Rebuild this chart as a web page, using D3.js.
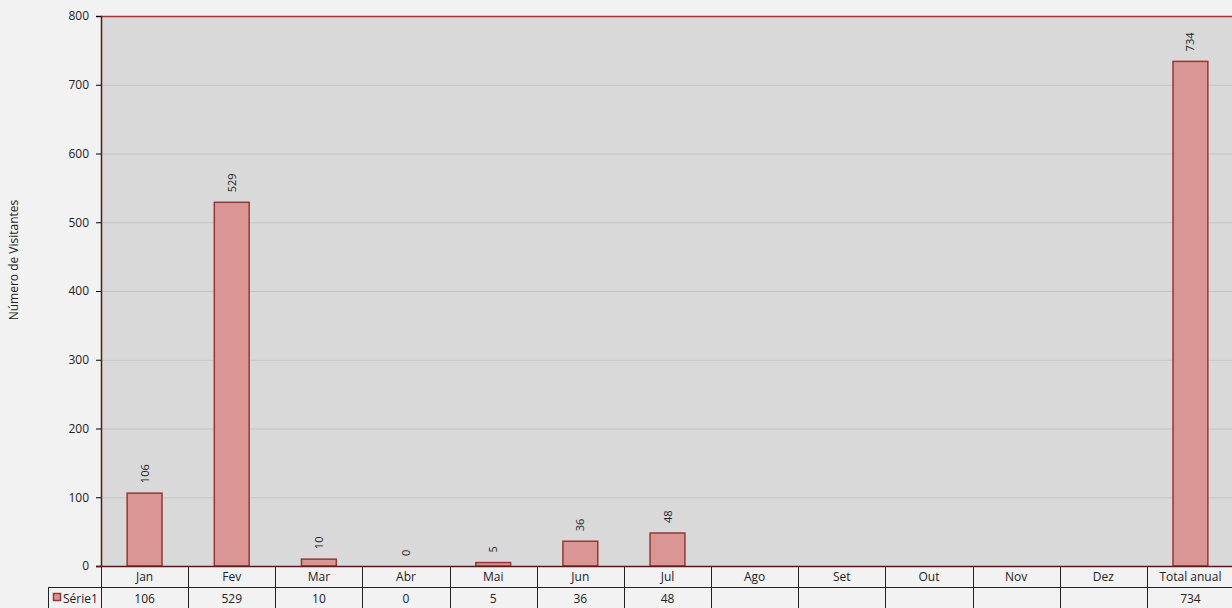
<!DOCTYPE html>
<html>
<head>
<meta charset="utf-8">
<script src="https://cdn.jsdelivr.net/npm/d3@7"></script>
<style>
  body { margin: 0; background: #f2f2f2; overflow: hidden; }
  svg { display: block; font-family: 'Open Sans', 'Liberation Sans', sans-serif; }
</style>
</head>
<body>
<svg></svg>
<script>
const categories = ['Jan', 'Fev', 'Mar', 'Abr', 'Mai', 'Jun', 'Jul', 'Ago', 'Set', 'Out', 'Nov', 'Dez', 'Total anual']
const values = [106, 529, 10, 0, 5, 36, 48, null, null, null, null, null, 734]
const seriesName = 'Série1'
const yTicks = [0, 100, 200, 300, 400, 500, 600, 700, 800]
const yTitle = 'Número de Visitantes'

const W = 1232
const H = 608
const plotLeft = 101
const plotRight = 1234 // plot runs slightly past the window edge
const plotTop = 16
const plotBottom = 566
const rowH = 21

const barFill = '#da9694'
const barStroke = '#953735'

let svg = d3.select('svg')
  .attr('width', W)
  .attr('height', H)

let x = d3.scaleBand()
  .domain(categories)
  .range([plotLeft, plotRight])

let y = d3.scaleLinear()
  .domain([0, 800])
  .range([plotBottom, plotTop])

// plot area
svg.append('rect')
  .attr('x', plotLeft)
  .attr('y', plotTop)
  .attr('width', plotRight - plotLeft)
  .attr('height', plotBottom - plotTop)
  .attr('fill', '#d9d9d9')

// gridlines
svg.append('g')
  .selectAll('line')
  .data(yTicks.filter(d => d > 0 && d < 800))
  .join('line')
  .attr('x1', plotLeft)
  .attr('x2', plotRight)
  .attr('y1', d => y(d) + 0.5)
  .attr('y2', d => y(d) + 0.5)
  .attr('stroke', '#c4c4c4')

// top border
svg.append('line')
  .attr('x1', plotLeft).attr('x2', plotRight)
  .attr('y1', plotTop + 0.5).attr('y2', plotTop + 0.5)
  .attr('stroke', '#a83232')
  .attr('stroke-width', 1.5)

// bars
let barW = x.bandwidth() * 0.4
let bars = categories.map((c, i) => ({ cat: c, v: values[i] })).filter(d => d.v !== null)

svg.append('g')
  .selectAll('rect')
  .data(bars.filter(d => d.v > 0))
  .join('rect')
  .attr('x', d => x(d.cat) + (x.bandwidth() - barW) / 2)
  .attr('y', d => y(d.v))
  .attr('width', barW)
  .attr('height', d => y(0) - y(d.v))
  .attr('fill', barFill)
  .attr('stroke', barStroke)
  .attr('stroke-width', 1.5)

// data labels
svg.append('g')
  .selectAll('text')
  .data(bars)
  .join('text')
  .attr('transform', d => `translate(${x(d.cat) + x.bandwidth() / 2 + 4},${y(d.v) - 10}) rotate(-90)`)
  .attr('font-size', 11)
  .attr('fill', '#222')
  .text(d => d.v)

// y axis
let yAxis = svg.append('g')
  .attr('transform', `translate(${plotLeft},0)`)
  .call(d3.axisLeft(y).tickValues(yTicks).tickSize(5).tickPadding(7))
yAxis.select('.domain').attr('stroke', '#5a1a1a').attr('stroke-width', 1.5)
yAxis.selectAll('.tick line').attr('stroke', '#000')
yAxis.selectAll('.tick text').attr('font-size', 12).attr('fill', '#222')
  .attr('font-family', "'Open Sans', 'Liberation Sans', sans-serif")

svg.append('text')
  .attr('transform', `translate(18,260) rotate(-90)`)
  .attr('text-anchor', 'middle')
  .attr('font-size', 12)
  .attr('fill', '#222')
  .text(yTitle)

// data table
let table = svg.append('g')
table.append('line')
  .attr('x1', 48).attr('x2', plotRight)
  .attr('y1', plotBottom + rowH + 0.5).attr('y2', plotBottom + rowH + 0.5)
  .attr('stroke', '#222')
table.append('line')
  .attr('x1', 48.5).attr('x2', 48.5)
  .attr('y1', plotBottom + rowH).attr('y2', H)
  .attr('stroke', '#222')
table.selectAll('.vline')
  .data(categories.slice(1))
  .join('line')
  .attr('class', 'vline')
  .attr('x1', d => Math.round(x(d)) + 0.5)
  .attr('x2', d => Math.round(x(d)) + 0.5)
  .attr('y1', plotBottom)
  .attr('y2', H)
  .attr('stroke', '#222')
table.append('line')
  .attr('x1', plotLeft + 0.5).attr('x2', plotLeft + 0.5)
  .attr('y1', plotBottom).attr('y2', H)
  .attr('stroke', '#222')

table.selectAll('.cat')
  .data(categories)
  .join('text')
  .attr('class', 'cat')
  .attr('x', d => x(d) + x.bandwidth() / 2)
  .attr('y', plotBottom + 15)
  .attr('text-anchor', 'middle')
  .attr('font-size', 12)
  .attr('fill', '#222')
  .text(d => d)

table.selectAll('.val')
  .data(bars)
  .join('text')
  .attr('class', 'val')
  .attr('x', d => x(d.cat) + x.bandwidth() / 2)
  .attr('y', plotBottom + rowH + 16)
  .attr('text-anchor', 'middle')
  .attr('font-size', 12)
  .attr('fill', '#222')
  .text(d => d.v)

table.append('rect')
  .attr('x', 53.5).attr('y', plotBottom + rowH + 6.5)
  .attr('width', 7).attr('height', 7)
  .attr('fill', barFill)
  .attr('stroke', barStroke)
  .attr('stroke-width', 1.5)
table.append('text')
  .attr('x', 63)
  .attr('y', plotBottom + rowH + 16)
  .attr('font-size', 12)
  .attr('fill', '#222')
  .text(seriesName)

// bottom axis line
svg.append('line')
  .attr('x1', plotLeft - 5).attr('x2', plotRight)
  .attr('y1', plotBottom + 0.5).attr('y2', plotBottom + 0.5)
  .attr('stroke', '#5a1a1a')
  .attr('stroke-width', 1.5)
</script>
</body>
</html>
